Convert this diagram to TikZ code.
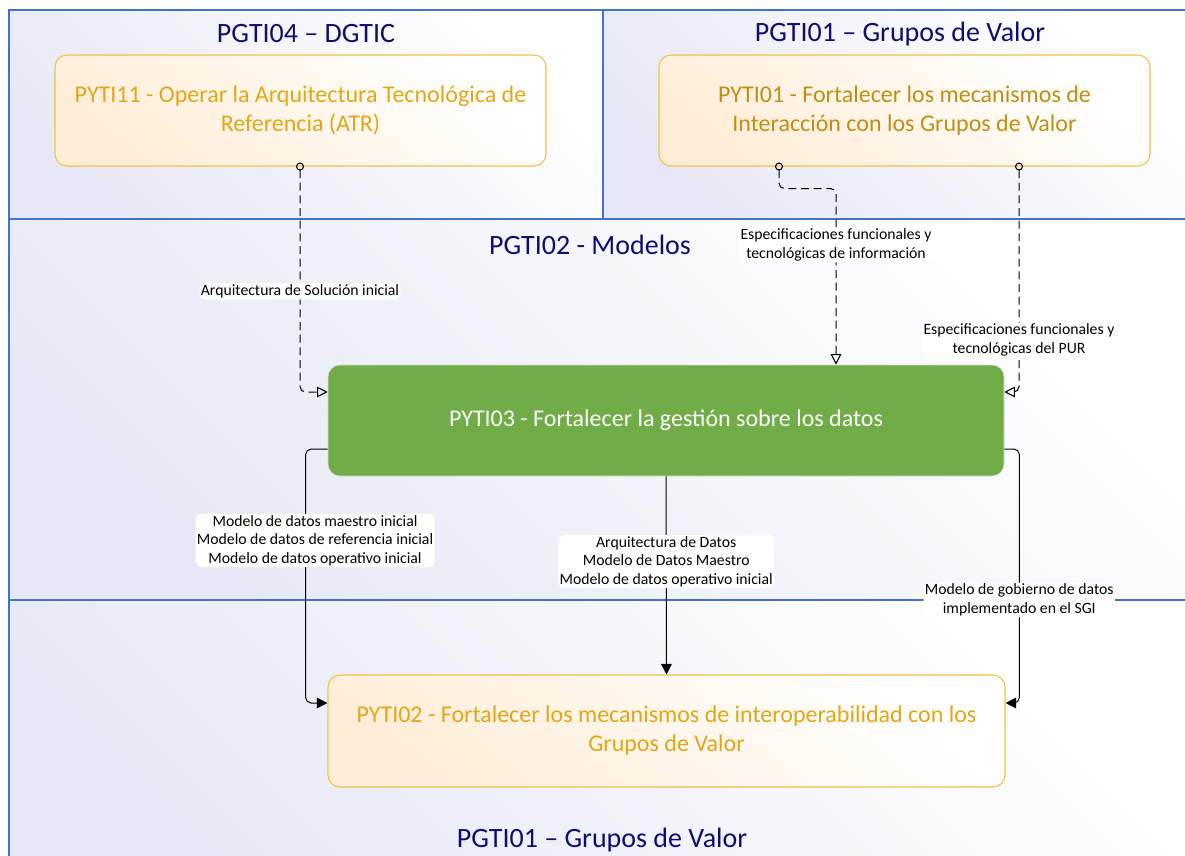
\documentclass[tikz,border=0pt]{standalone}
\usepackage{fontspec}
\setmainfont{Carlito}
\usetikzlibrary{arrows.meta,calc,positioning}

\definecolor{laneblue}{RGB}{68,114,196}
\definecolor{lanefill}{RGB}{230,233,245}
\definecolor{titlenavy}{RGB}{14,14,110}
\definecolor{boxgold}{RGB}{240,192,70}
\definecolor{boxfill}{RGB}{254,238,216}
\definecolor{textgold}{RGB}{228,166,22}
\definecolor{datagreen}{RGB}{112,173,71}

\tikzset{
  lane/.style={draw=laneblue, line width=1pt, shading=axis, top color=lanefill, bottom color=white, shading angle=135},
  lanetitle/.style={text=titlenavy, font=\fontsize{21}{25}\selectfont, inner sep=0.75pt},
  project/.style={draw=boxgold, line width=0.8pt, rounded corners=9pt, shading=axis, top color=boxfill, bottom color=white, shading angle=140,
    text=textgold, align=center, font=\fontsize{18}{21.75}\selectfont, minimum height=83.25pt},
  datos/.style={draw=black!15, fill=datagreen, rounded corners=9pt, text=white, align=center,
    font=\fontsize{18}{21.75}\selectfont, minimum width=507pt, minimum height=83.25pt},
  lbl/.style={fill=white, align=center, inner sep=1pt, font=\fontsize{11.8}{13.9}\selectfont},
  dashflow/.style={dash pattern=on 6pt off 3.5pt, rounded corners=4, line width=0.75pt,
    {Circle[open,length=6pt,width=6pt,line width=0.8pt,sep=-3pt]}-{Triangle[open,length=8pt,width=8pt,line width=0.8pt]}},
  flow/.style={rounded corners=4, line width=0.75pt, -{Triangle[length=8pt,width=8pt]}}
}

\begin{document}
\begin{tikzpicture}[x=0.75pt,y=0.75pt,yscale=-1,xscale=1]
\useasboundingbox (0,0) rectangle (1185,856);
\clip (0,0) rectangle (1185,856);

%Shape: Lanes
\path [lane] (9,10) rectangle (603,219);
\path [lane] (603,10) rectangle (1200,219);
\path [lane] (9,219) rectangle (1200,600);
\path [lane] (9,600) rectangle (1200,880);

% Text Node
\node [lanetitle] (t04) at (306,34) {PGTI04 – DGTIC};
% Text Node
\node [lanetitle] (t01) at (900,34) {PGTI01 – Grupos de Valor};
% Text Node
\node [lanetitle] (t02) at (590,245) {PGTI02 - Modelos};
% Text Node
\node [lanetitle] (t01b) at (602,840) {PGTI01 – Grupos de Valor};

%Shape: Rounded Rect
\node [project, minimum width=368.25pt] (pyti11) at (300.5,110.5) {PYTI11 - Operar la Arquitectura Tecnológica de\\Referencia (ATR)};
\node [project, minimum width=368.25pt, text=textgold!85!black] (pyti01) at (904.5,110.5) {PYTI01 - Fortalecer los mecanismos de\\Interacción con los Grupos de Valor};
\node [datos] (pyti03) at (666,420.5) {PYTI03 - Fortalecer la gestión sobre los datos};
\node [project, minimum width=507.75pt, minimum height=84pt] (pyti02) at (666.5,731) {PYTI02 - Fortalecer los mecanismos de interoperabilidad con los\\Grupos de Valor};

%Straight Lines
\draw [dashflow] ($(pyti11.south)+(-0.5,0)$) |- ($(pyti03.west)+(0,-28.5)$)
  node [lbl, pos=0.277] (l1) {Arquitectura de Solución inicial};
\draw [dashflow] ($(pyti01.south)+(-125.5,0)$) -- ++(0,22) -| ($(pyti03.north)+(170,0)$)
  node [lbl, pos=0.66] (l2) {Especificaciones funcionales y\\tecnológicas de información};
\draw [dashflow] ($(pyti01.south)+(114.5,0)$) |- ($(pyti03.east)+(0,-28.5)$)
  node [lbl, pos=0.385] (l3) {Especificaciones funcionales y\\tecnológicas del PUR};

%Straight Lines
\draw [flow] ($(pyti03.west)+(0,28.5)$) -- ++(-22,0) |- ($(pyti02.west)+(0,-28)$)
  node [lbl, pos=0.18, xshift=7pt] (l4) {Modelo de datos maestro inicial\\Modelo de datos de referencia inicial\\Modelo de datos operativo inicial};
\draw [flow] (pyti03.south) -- (pyti02.north)
  node [lbl, pos=0.43] (l5) {Arquitectura de Datos\\Modelo de Datos Maestro\\Modelo de datos operativo inicial};
\draw [flow] ($(pyti03.east)+(0,28.5)$) -- ++(15,0) |- ($(pyti02.east)+(0,-28)$)
  node [lbl, pos=0.297] (l6) {Modelo de gobierno de datos\\implementado en el SGI};

\end{tikzpicture}
\end{document}
